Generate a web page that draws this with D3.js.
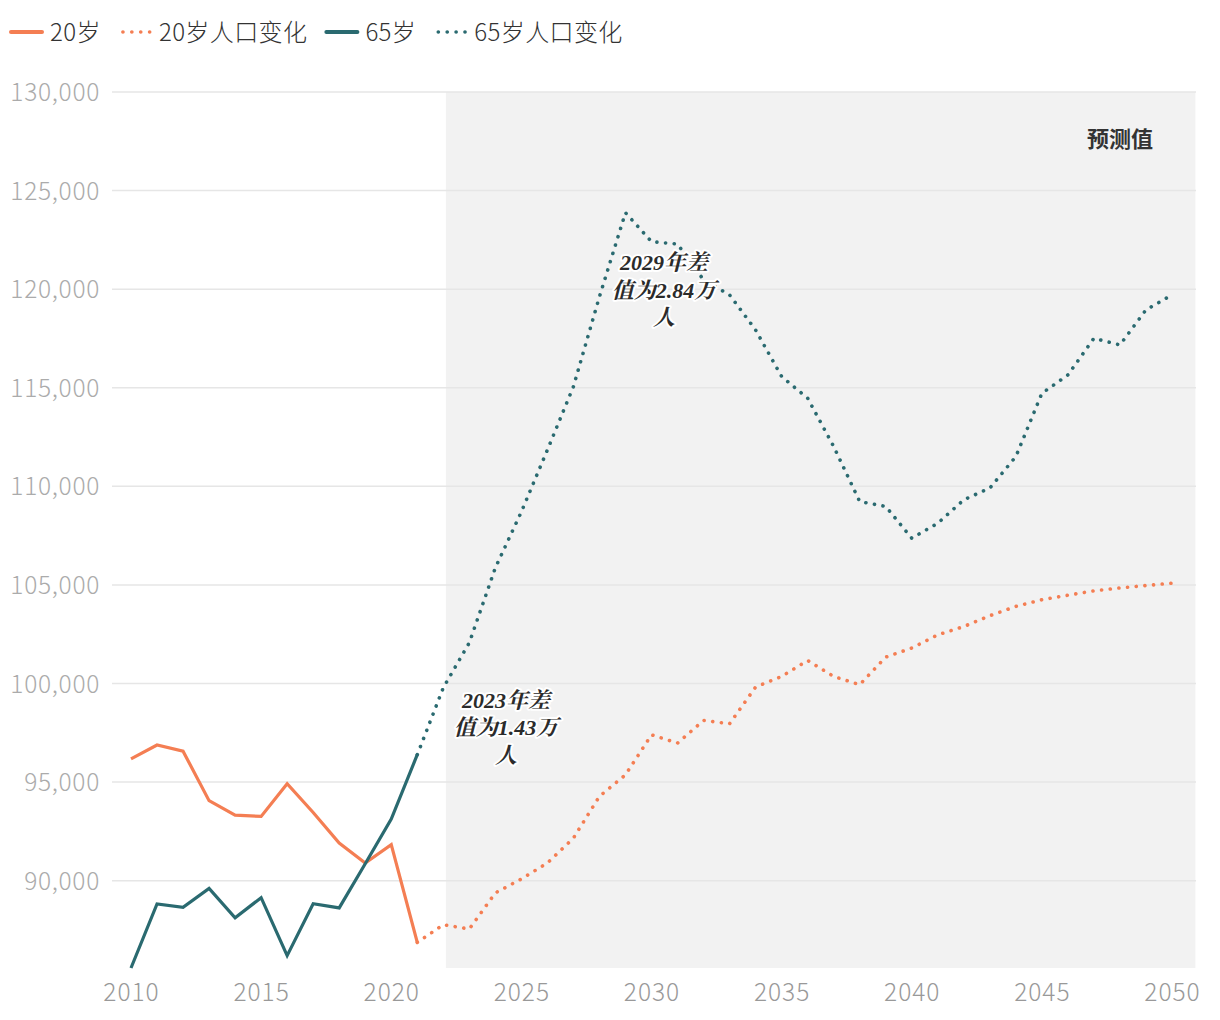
<!DOCTYPE html>
<html><head><meta charset="utf-8">
<script src="https://cdn.jsdelivr.net/npm/d3@7"></script>
<style>
html,body{margin:0;padding:0;background:#fff;}
svg{display:block;}
</style></head>
<body>
<svg id="chart" width="1220" height="1020"></svg>
<script>
// ---- data ----
const yearsHist = [2010,2011,2012,2013,2014,2015,2016,2017,2018,2019,2020,2021];
const age20Hist = [96180,96880,96570,94060,93330,93260,94920,93460,91910,90900,91830,86870];
const age65Hist = [85573,88820,88650,89610,88120,89140,86200,88830,88620,90860,93130,96390];

const yearsProj = [2021,2022,2023,2024,2025,2026,2027,2028,2029,2030,2031,2032,2033,2034,2035,2036,2037,2038,2039,2040,2041,2042,2043,2044,2045,2046,2047,2048,2049,2050];
const age20Proj = [86870,87770,87550,89380,90090,90900,92160,94280,95370,97400,96980,98130,97960,99820,100360,101170,100360,99940,101340,101800,102470,102890,103440,103910,104250,104480,104700,104850,104970,105090];
const age65Proj = [96390,99790,102070,105870,108710,111850,115060,119620,123880,122410,122290,120470,119710,117930,115570,114470,112020,109230,108980,107370,108130,109320,109910,111510,114720,115650,117510,117170,118950,119710];

const yTicks = [90000,95000,100000,105000,110000,115000,120000,125000,130000];
const xTicks = [2010,2015,2020,2025,2030,2035,2040,2045,2050];
const forecastSpan = [2022.1, 2050.9];
const forecastLabel = "预测值";

const legendItems = [
  {label:"20岁", color:"#F47E53", dotted:false},
  {label:"20岁人口变化", color:"#F47E53", dotted:true},
  {label:"65岁", color:"#2A6A70", dotted:false},
  {label:"65岁人口变化", color:"#2A6A70", dotted:true}
];
const annotations = [
  {year:2024.41, value:98760, lines:["2023年差","值为1.43万","人"]},
  {year:2030.48, value:120970, lines:["2029年差","值为2.84万","人"]}
];

// ---- layout ----
const svg = d3.select("#chart");
const C20 = "#F47E53", C65 = "#2A6A70";
const allVals = age20Hist.concat(age65Hist, age20Proj, age65Proj);
const x = d3.scaleLinear().domain([2010, 2050]).range([131, 1172]);
const y = d3.scaleLinear().domain([d3.min(allVals), 130000]).range([968, 92]);
const gridX0 = 112, gridX1 = 1196;
const sansFont = "'Noto Sans CJK SC','Noto Sans',sans-serif";

// forecast shade
svg.append("rect")
  .attr("x", x(forecastSpan[0])).attr("y", y(130000))
  .attr("width", x(forecastSpan[1]) - x(forecastSpan[0]))
  .attr("height", y.range()[0] - y(130000))
  .attr("fill", "#f2f2f2");

// grid + y axis
const yAxis = d3.axisLeft(y).tickValues(yTicks).tickFormat(d3.format(",")).tickSize(0).tickPadding(0);
const yg = svg.append("g").attr("transform", "translate(100,0)").call(yAxis);
yg.select(".domain").remove();
yg.selectAll("text").attr("font-family", sansFont).attr("font-size", 24.5).attr("font-weight", 300)
  .attr("letter-spacing", 0.7).attr("fill", "#ababab").attr("dy", "0.35em");
svg.append("g").selectAll("line").data(yTicks).join("line")
  .attr("x1", gridX0).attr("x2", gridX1)
  .attr("y1", d => y(d)).attr("y2", d => y(d))
  .attr("stroke", "#e6e6e6").attr("stroke-width", 1.5);

// x axis
const xAxis = d3.axisBottom(x).tickValues(xTicks).tickFormat(d3.format("d")).tickSize(0).tickPadding(0);
const xg = svg.append("g").attr("transform", "translate(0,984)").call(xAxis);
xg.select(".domain").remove();
xg.selectAll("text").attr("font-family", sansFont).attr("font-size", 24.5).attr("font-weight", 300)
  .attr("letter-spacing", 1).attr("fill", "#999").attr("dy", "0.71em");

// lines
const line = d3.line().x(d => x(d[0])).y(d => y(d[1]));
function drawLine(years, vals, color, dotted) {
  const p = svg.append("path").datum(years.map((yr, i) => [yr, vals[i]]))
    .attr("d", line).attr("fill", "none").attr("stroke", color);
  if (dotted) p.attr("stroke-width", 3.6).attr("stroke-dasharray", "0.1 8.6").attr("stroke-linecap", "round");
  else p.attr("stroke-width", 3.2).attr("stroke-linejoin", "miter");
}
drawLine(yearsProj, age20Proj, C20, true);
drawLine(yearsProj, age65Proj, C65, true);
drawLine(yearsHist, age20Hist, C20, false);
drawLine(yearsHist, age65Hist, C65, false);

// forecast label
svg.append("text").attr("x", 1120).attr("y", 147).attr("text-anchor", "middle")
  .attr("font-family", "'Noto Sans CJK SC',sans-serif").attr("font-weight", 700)
  .attr("font-size", 22).attr("fill", "#333").text(forecastLabel);

// annotations
annotations.forEach(a => {
  const t = svg.append("text").attr("text-anchor", "middle")
    .attr("font-family", "'Liberation Serif','Noto Serif CJK SC','Noto Sans CJK SC',serif")
    .attr("font-style", "italic").attr("font-weight", 700).attr("font-size", 22)
    .attr("fill", "#2b2b2b").attr("stroke", "#fff").attr("stroke-width", 4)
    .attr("stroke-linejoin", "round").attr("paint-order", "stroke");
  a.lines.forEach((ln, i) => {
    t.append("tspan").attr("x", x(a.year)).attr("y", y(a.value) + i * 27.5).text(ln);
  });
});

// legend
const lg = svg.append("g").attr("transform", "translate(10,32)");
let lx = 0;
legendItems.forEach(it => {
  const g = lg.append("g").attr("transform", `translate(${lx},0)`);
  const ln = g.append("line").attr("x1", 1).attr("x2", 32).attr("y1", 0).attr("y2", 0).attr("stroke", it.color);
  if (it.dotted) ln.attr("stroke-width", 3.6).attr("stroke-dasharray", "0.1 8.8").attr("stroke-linecap", "round").attr("x1", 4).attr("x2", 32);
  else ln.attr("stroke-width", 4).attr("stroke-linecap", "round");
  const t = g.append("text").attr("x", 40).attr("y", 0).attr("dy", "0.36em")
    .attr("font-family", sansFont).attr("font-size", 24).attr("font-weight", 300)
    .attr("letter-spacing", 0.4).attr("fill", "#333").text(it.label);
  lx += 40 + t.node().getComputedTextLength() + 18;
});
</script>
</body></html>
